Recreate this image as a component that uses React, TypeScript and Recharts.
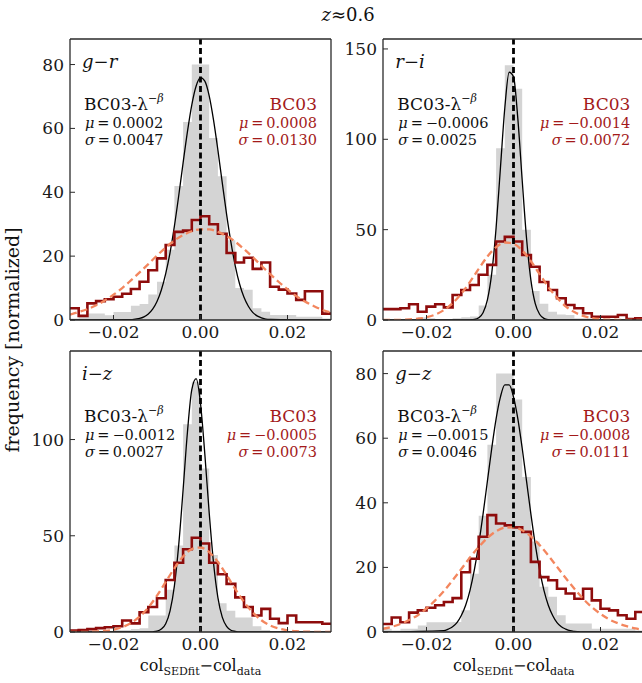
import React from "react";
import { ComposedChart, Area, Line, XAxis, YAxis, ReferenceLine } from "recharts";

// histogram bin edges (30 bins of 0.002) shared by all panels
const BIN_EDGES = [
  -0.03, -0.028, -0.026, -0.024, -0.022, -0.02, -0.018, -0.016, -0.014, -0.012, -0.01,
  -0.008, -0.006, -0.004, -0.002, 0, 0.002, 0.004, 0.006, 0.008, 0.01, 0.012, 0.014,
  0.016, 0.018, 0.02, 0.022, 0.024, 0.026, 0.028, 0.03,
];

const CURVE_X = [
  -0.03, -0.016, -0.015, -0.014, -0.013, -0.012, -0.011, -0.01, -0.009, -0.008, -0.007,
  -0.006, -0.005, -0.004, -0.003, -0.002, -0.001, 0, 0.001, 0.002, 0.003, 0.004, 0.005,
  0.006, 0.007, 0.008, 0.009, 0.01, 0.011, 0.012, 0.013, 0.014, 0.015, 0.016, 0.03,
];

const X_TICKS = [-0.02, 0, 0.02];

// g-r
const GR_GRAY = [0.5, 1, 2, 2, 1.5, 2.5, 2.5, 4.5, 5, 8, 12, 22, 42, 62, 80, 80, 57, 45, 25, 10, 9.5, 3.7, 2.6, 1.6, 1.6, 1.6, 1, 1, 1, 0.5];
const GR_RED = [3.7, 1.3, 5.2, 5.9, 6.5, 7.3, 8.2, 9.7, 12, 15.6, 19.3, 23.5, 27.6, 28, 31.3, 32.5, 30, 27, 21, 18, 19.5, 16, 18, 10.4, 9.5, 8.3, 6.3, 9, 9, 2];
const GR_FIT = [0, 0.1, 0.3, 0.5, 1.0, 1.9, 3.4, 5.8, 9.4, 14.5, 21.1, 29.4, 39.0, 49.2, 59.0, 67.4, 73.3, 75.9, 74.8, 70.2, 62.6, 53.2, 43.0, 33.1, 24.3, 16.9, 11.2, 7.1, 4.3, 2.4, 1.3, 0.7, 0.3, 0.2, 0];
const GR_BC03 = [1.7, 2.5, 3.4, 4.6, 6.1, 7.9, 10.0, 12.4, 14.9, 17.5, 20.2, 22.7, 24.9, 26.6, 27.8, 28.4, 28.4, 27.6, 26.3, 24.5, 22.2, 19.7, 17.0, 14.4, 11.9, 9.6, 7.5, 5.8, 4.4, 3.2, 2.3];
const GR_STATS = ["0.0002", "0.0047", "0.0008", "0.0130"];

// r-i
const RI_GRAY = [0, 0, 0, 0.5, 1.5, 1, 0.5, 0.5, 1, 1.5, 2, 8, 25, 95, 141, 128, 50, 16, 9, 4.6, 3, 2.8, 1, 1, 1, 0.5, 0.5, 0, 0, 0];
const RI_RED = [6, 6, 6.5, 8.7, 4.6, 7.4, 8.7, 7, 13.8, 16.6, 19.4, 25, 30.5, 43.4, 46, 43.4, 36, 29.5, 21, 16.6, 12, 8.3, 6.5, 3.7, 1.8, 1.8, 1.8, 2.8, 0.5, 1];
const RI_FIT = [0, 0, 0, 0, 0, 0, 0, 0.1, 0.3, 1.2, 4.0, 11.1, 25.9, 51.0, 84.3, 117.3, 137.1, 134.7, 111.3, 77.3, 45.1, 22.1, 9.1, 3.2, 0.9, 0.2, 0, 0, 0, 0, 0, 0, 0, 0, 0];
const RI_BC03 = [0, 0.1, 0.1, 0.3, 0.7, 1.5, 3.0, 5.5, 9.3, 14.6, 21.1, 28.3, 35.1, 40.3, 42.9, 42.2, 38.5, 32.5, 25.4, 18.3, 12.3, 7.6, 4.4, 2.3, 1.1, 0.5, 0.2, 0.1, 0, 0, 0];
const RI_STATS = ["\u22120.0006", "0.0025", "\u22120.0014", "0.0072"];

// i-z
const IZ_GRAY = [0, 0, 0, 0.5, 0.5, 1, 1, 1.5, 2, 8.6, 8.6, 22, 45, 108, 130, 85, 40, 15, 11, 7.5, 7.5, 3, 1, 0.5, 0.5, 0, 0, 0, 0, 0];
const IZ_RED = [0.8, 1.0, 1.5, 2.0, 2.5, 3.0, 6.0, 4.5, 10.3, 13.0, 17.5, 27, 36, 43, 49, 46, 36, 30, 25, 18, 13, 8.6, 12, 6.9, 4.6, 8.6, 5.1, 5.1, 5.1, 4.3];
const IZ_FIT = [0, 0, 0, 0, 0, 0, 0.1, 0.4, 1.5, 4.3, 11.0, 24.0, 45.4, 73.9, 103.9, 125.9, 131.6, 118.7, 92.3, 61.9, 35.8, 17.9, 7.7, 2.9, 0.9, 0.3, 0, 0, 0, 0, 0, 0, 0, 0, 0];
const IZ_BC03 = [0, 0, 0.1, 0.3, 0.6, 1.2, 2.5, 4.6, 8.0, 12.7, 18.9, 26.0, 33.1, 39.2, 43.1, 43.9, 41.5, 36.4, 29.6, 22.3, 15.6, 10.2, 6.1, 3.4, 1.8, 0.9, 0.4, 0.2, 0.1, 0, 0];
const IZ_STATS = ["\u22120.0012", "0.0027", "\u22120.0005", "0.0073"];

// g-z
const GZ_GRAY = [1, 0.5, 1, 1, 2, 3, 3, 3, 3.1, 6.7, 18, 36, 58, 80, 80, 72, 48, 28, 14, 10.9, 5.2, 2.6, 2.6, 2.6, 1, 1, 1, 1, 1, 0.5];
const GZ_RED = [2.5, 4.5, 3, 6, 6.7, 7.5, 8.3, 9.3, 10.5, 18.5, 22.7, 29.5, 36.2, 33.6, 33, 32.4, 31, 21.7, 17, 16, 13.4, 11.9, 10.3, 13.4, 9.8, 7.2, 6.7, 5.2, 4.1, 6.2];
const GZ_FIT = [0, 0.4, 0.9, 1.6, 2.9, 5.1, 8.3, 12.9, 19.2, 27.1, 36.5, 46.7, 56.9, 66.0, 72.8, 76.5, 76.5, 72.8, 66.0, 56.9, 46.7, 36.5, 27.1, 19.2, 12.9, 8.3, 5.1, 2.9, 1.6, 0.9, 0.4, 0.2, 0.1, 0, 0];
const GZ_BC03 = [1.0, 1.6, 2.5, 3.7, 5.2, 7.3, 9.8, 12.7, 16.0, 19.5, 23.1, 26.3, 29.1, 31.2, 32.3, 32.4, 31.5, 29.6, 26.9, 23.7, 20.2, 16.7, 13.4, 10.3, 7.7, 5.6, 3.9, 2.7, 1.8, 1.1, 0.7];
const GZ_STATS = ["\u22120.0015", "0.0046", "\u22120.0008", "0.0111"];

const FONT = "'DejaVu Serif', serif";
const FRAME = "#2a2a2a";
const DARK_RED = "#8e0c0c";
const TEXT_RED = "#a31a1a";
const SALMON = "#f3865e";

const PANELS = [
  { key: "gr", names: ["g", "r"], left: 0, top: 0, yMax: 88, yTicks: [0, 20, 40, 60, 80], gray: GR_GRAY, red: GR_RED, fit: GR_FIT, bc03: GR_BC03, stats: GR_STATS },
  { key: "ri", names: ["r", "i"], left: 313.3, top: 0, yMax: 155.5, yTicks: [0, 50, 100, 150], gray: RI_GRAY, red: RI_RED, fit: RI_FIT, bc03: RI_BC03, stats: RI_STATS },
  { key: "iz", names: ["i", "z"], left: 0, top: 312, yMax: 146, yTicks: [0, 50, 100], gray: IZ_GRAY, red: IZ_RED, fit: IZ_FIT, bc03: IZ_BC03, stats: IZ_STATS },
  { key: "gz", names: ["g", "z"], left: 313.3, top: 312, yMax: 87, yTicks: [0, 20, 40, 60, 80], gray: GZ_GRAY, red: GZ_RED, fit: GZ_FIT, bc03: GZ_BC03, stats: GZ_STATS },
];

// chart geometry: plot area sits at (70, 39) .. (331, 320) inside each 345x345 chart
const CHART = 345;
const PLOT_L = 70;
const PLOT_T = 39;
const PLOT_R = 331;

const steps = (vals: number[]) =>
  BIN_EDGES.map((x, i) => ({ x, y: vals[Math.min(i, vals.length - 1)] }));
const points = (xs: number[], vals: number[]) => xs.map((x, i) => ({ x, y: vals[i] }));

const fmtX = (v: number) => (v === 0 ? "0.00" : (v < 0 ? "\u2212" : "") + Math.abs(v).toFixed(2));

const tickStyle = { fill: "#1a1a1a", fontSize: 17, fontFamily: FONT };
const axisLine = { stroke: FRAME, strokeWidth: 1.3 };
const tickLine = { stroke: FRAME, strokeWidth: 1 };

function HistPanel({ p }: { p: (typeof PANELS)[number] }) {
  return (
    <div style={{ position: "absolute", left: p.left, top: p.top }}>
      <ComposedChart width={CHART} height={CHART} margin={{ top: 38, right: 13, bottom: 4, left: 10 }}>
        <XAxis
          xAxisId="b"
          type="number"
          dataKey="x"
          domain={[-0.03, 0.03]}
          allowDataOverflow
          ticks={X_TICKS}
          interval={0}
          tickFormatter={fmtX}
          height={21}
          tickSize={-5}
          tickMargin={11}
          axisLine={axisLine}
          tickLine={tickLine}
          tick={tickStyle}
        />
        <XAxis
          xAxisId="t"
          orientation="top"
          type="number"
          dataKey="x"
          domain={[-0.03, 0.03]}
          allowDataOverflow
          ticks={X_TICKS}
          interval={0}
          height={1}
          tickSize={-5}
          axisLine={axisLine}
          tickLine={tickLine}
          tick={false}
        />
        <YAxis
          yAxisId="l"
          type="number"
          domain={[0, p.yMax]}
          allowDataOverflow
          ticks={p.yTicks}
          interval={0}
          width={60}
          tickSize={-5}
          tickMargin={11}
          axisLine={axisLine}
          tickLine={tickLine}
          tick={tickStyle}
        />
        <YAxis
          yAxisId="r"
          orientation="right"
          type="number"
          domain={[0, p.yMax]}
          allowDataOverflow
          ticks={p.yTicks}
          interval={0}
          width={1}
          tickSize={-5}
          axisLine={axisLine}
          tickLine={tickLine}
          tick={false}
        />
        <Area
          xAxisId="b"
          yAxisId="l"
          data={steps(p.gray)}
          dataKey="y"
          type="stepAfter"
          fill="#d4d4d4"
          fillOpacity={1}
          stroke="none"
          isAnimationActive={false}
        />
        <Line
          xAxisId="b"
          yAxisId="l"
          data={points(CURVE_X, p.fit)}
          dataKey="y"
          type="monotone"
          stroke="#000"
          strokeWidth={1.3}
          dot={false}
          isAnimationActive={false}
        />
        <Line
          xAxisId="b"
          yAxisId="l"
          data={steps(p.red)}
          dataKey="y"
          type="stepAfter"
          stroke={DARK_RED}
          strokeWidth={2.6}
          dot={false}
          isAnimationActive={false}
        />
        <Line
          xAxisId="b"
          yAxisId="l"
          data={points(BIN_EDGES, p.bc03)}
          dataKey="y"
          type="monotone"
          stroke={SALMON}
          strokeWidth={2.3}
          strokeDasharray="7 4"
          dot={false}
          isAnimationActive={false}
        />
        <ReferenceLine xAxisId="b" yAxisId="l" x={0} stroke="#000" strokeWidth={2.8} strokeDasharray="6 3.5" />
      </ComposedChart>
    </div>
  );
}

function PanelText({ p }: { p: (typeof PANELS)[number] }) {
  const L = p.left + PLOT_L;
  const T = p.top + PLOT_T;
  const R = p.left + PLOT_R;
  const [fitMu, fitSigma, bcMu, bcSigma] = p.stats;
  return (
    <g>
      <text x={L + 12} y={T + 29} fontSize={18} fill="#111">
        <tspan fontStyle="italic">{p.names[0]}</tspan>
        {"\u2212"}
        <tspan fontStyle="italic">{p.names[1]}</tspan>
      </text>
      <text x={L + 14} y={T + 71} fontSize={17} fill="#111">
        BC03-λ
        <tspan fontSize={11} dy={-8}>
          {"\u2212"}
        </tspan>
        <tspan fontSize={11} fontStyle="italic">
          β
        </tspan>
      </text>
      <text x={L + 15} y={T + 89} fontSize={14.5} fill="#111">
        <tspan fontStyle="italic">μ</tspan>
        {"\u2009=\u2009" + fitMu}
      </text>
      <text x={L + 15} y={T + 106} fontSize={14.5} fill="#111">
        <tspan fontStyle="italic">σ</tspan>
        {"\u2009=\u2009" + fitSigma}
      </text>
      <text x={R - 14} y={T + 71} fontSize={17} fill={TEXT_RED} textAnchor="end">
        BC03
      </text>
      <text x={R - 14} y={T + 89} fontSize={14.5} fill={TEXT_RED} textAnchor="end">
        <tspan fontStyle="italic">μ</tspan>
        {"\u2009=\u2009" + bcMu}
      </text>
      <text x={R - 14} y={T + 106} fontSize={14.5} fill={TEXT_RED} textAnchor="end">
        <tspan fontStyle="italic">σ</tspan>
        {"\u2009=\u2009" + bcSigma}
      </text>
    </g>
  );
}

function XLabel({ cx }: { cx: number }) {
  return (
    <text x={cx} y={671} fontSize={16} textAnchor="middle" fill="#111">
      col
      <tspan fontSize={11} dy={4}>
        SEDfit
      </tspan>
      <tspan dy={-4}>{"\u2212"}col</tspan>
      <tspan fontSize={11} dy={4}>
        data
      </tspan>
    </text>
  );
}

export default function App() {
  return (
    <div
      style={{
        position: "fixed",
        left: 0,
        top: 0,
        width: 642,
        height: 683,
        overflow: "hidden",
        background: "#fff",
      }}
    >
      {PANELS.map((p) => (
        <HistPanel key={p.key} p={p} />
      ))}
      <svg
        width={642}
        height={683}
        style={{ position: "absolute", left: 0, top: 0, pointerEvents: "none" }}
        fontFamily={FONT}
      >
        <text x={348} y={21} fontSize={18} textAnchor="middle" fill="#111">
          <tspan fontStyle="italic">z</tspan>≈0.6
        </text>
        <text transform="translate(19,340) rotate(-90)" fontSize={19} textAnchor="middle" fill="#111">
          frequency [normalized]
        </text>
        {PANELS.map((p) => (
          <PanelText key={p.key} p={p} />
        ))}
        <XLabel cx={200.5} />
        <XLabel cx={513.8} />
      </svg>
    </div>
  );
}
